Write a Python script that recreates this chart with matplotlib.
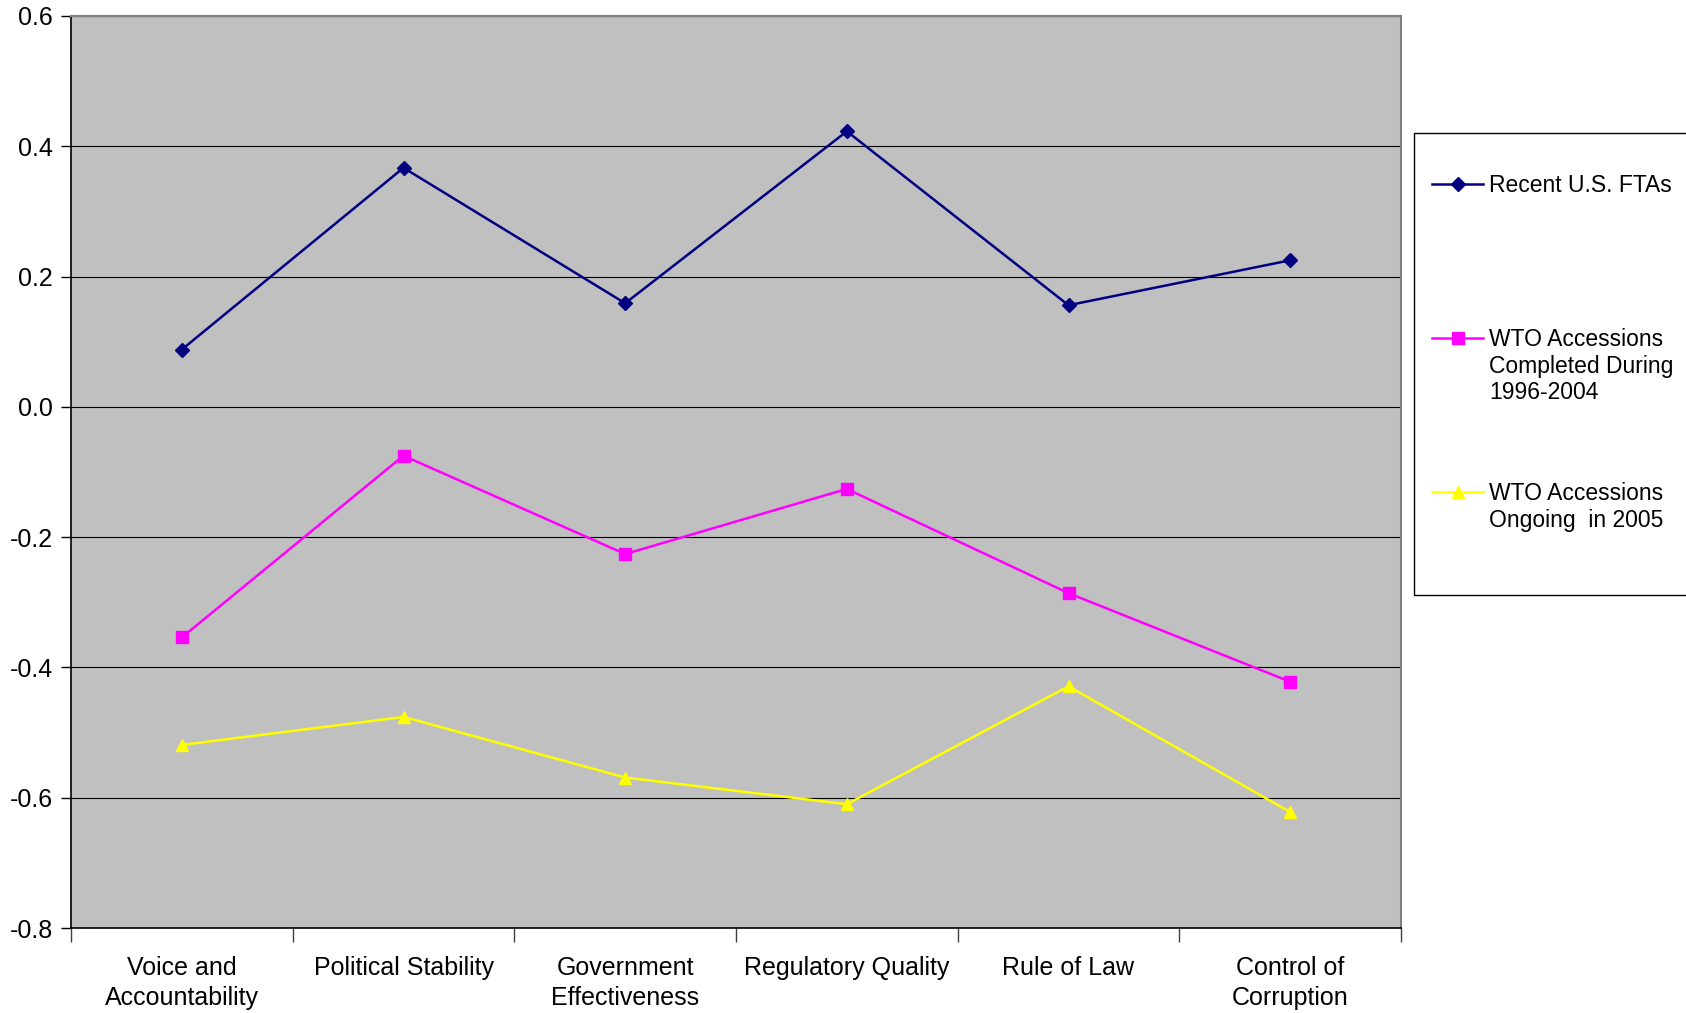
import numpy as np
import matplotlib.pyplot as plt
from matplotlib.lines import Line2D
from matplotlib.patches import Rectangle

plt.rcParams['font.family'] = ['Liberation Sans', 'DejaVu Sans']

categories = ['Voice and\nAccountability', 'Political Stability', 'Government\nEffectiveness',
              'Regulatory Quality', 'Rule of Law', 'Control of\nCorruption']
fta = [0.088, 0.367, 0.159, 0.423, 0.156, 0.225]
wto_done = [-0.354, -0.075, -0.226, -0.126, -0.286, -0.422]
wto_ongoing = [-0.519, -0.476, -0.569, -0.610, -0.429, -0.622]
yticks = [-0.8, -0.6, -0.4, -0.2, 0.0, 0.2, 0.4, 0.6]
labels = ['Recent U.S. FTAs', 'WTO Accessions\nCompleted During\n1996-2004', 'WTO Accessions\nOngoing  in 2005']

W, H = 1686, 1013
fig = plt.figure(figsize=(W / 100, H / 100), dpi=100)
ax = fig.add_axes([71 / W, 1 - 928 / H, 1330 / W, 912 / H])
ax.set_facecolor('#c0c0c0')

x = np.arange(len(categories)) + 0.5
series = [
    (fta, '#000080', 'D', 7),
    (wto_done, '#ff00ff', 's', 8),
    (wto_ongoing, '#ffff00', '^', 9),
]
for vals, col, mk, ms in series:
    ax.plot(x, vals, color=col, marker=mk, markersize=ms, linewidth=1.8,
            markerfacecolor=col, markeredgecolor=col, zorder=3)

ax.set_xlim(0, len(categories))
ax.set_ylim(-0.8, 0.6)
ax.set_yticks(yticks)
ax.set_yticklabels(['%.1f' % v for v in yticks], fontsize=18)
ax.yaxis.grid(True, color='black', linewidth=0.8)
ax.set_axisbelow(True)

ax.set_xticks(np.arange(len(categories) + 1))
ax.set_xticklabels([])
ax.set_xticks(x, minor=True)
ax.set_xticklabels(categories, minor=True, fontsize=18, linespacing=1.35)
ax.tick_params(axis='x', which='major', length=10, width=1, direction='out', color='#404040')
ax.tick_params(axis='x', which='minor', length=0, pad=20)
ax.tick_params(axis='y', length=7, width=1, direction='out', pad=6)

for s in ['top', 'right']:
    ax.spines[s].set_color('#808080')
    ax.spines[s].set_linewidth(1.5)
ax.spines['left'].set_color('black')
ax.spines['bottom'].set_color('black')
ax.spines['left'].set_linewidth(1.2)
ax.spines['bottom'].set_linewidth(1.2)

# legend box drawn in pixel coordinates (clipped at right figure edge)
def fx(px):
    return px / W

def fy(py):
    return 1 - py / H

fig.patches.append(Rectangle((fx(1414), fy(595)), fx(1700) - fx(1414), fy(133) - fy(595),
                             transform=fig.transFigure, facecolor='white',
                             edgecolor='black', linewidth=1))
rows = [184, 338, 492]
for (vals, col, mk, ms), lab, yy in zip(series, labels, rows):
    fig.lines.append(Line2D([fx(1432), fx(1483)], [fy(yy), fy(yy)], color=col, linewidth=1.8,
                            transform=fig.transFigure))
    fig.lines.append(Line2D([fx(1457.5)], [fy(yy)], color=col, marker=mk, markersize=ms,
                            transform=fig.transFigure))
    fig.text(fx(1489), fy(yy - 10), lab, fontsize=16.5, va='top', ha='left', linespacing=1.2)

fig.savefig('out.png', dpi=100, facecolor='white')
